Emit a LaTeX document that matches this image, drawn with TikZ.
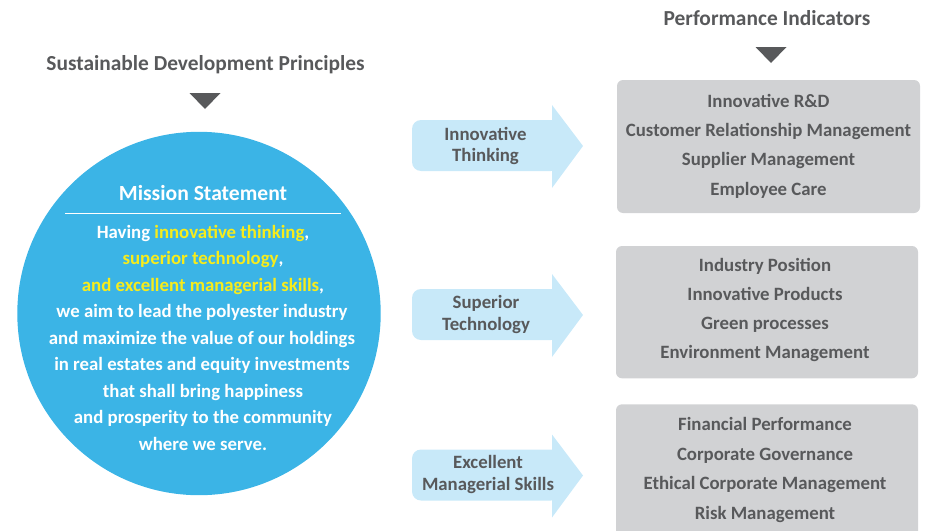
\documentclass[tikz,border=0pt]{standalone}
\usepackage{fontspec}
\setmainfont{Carlito}
\definecolor{txtgray}{HTML}{58595B}
\definecolor{circblue}{HTML}{3BB4E6}
\definecolor{arrblue}{HTML}{C8E9F9}
\definecolor{boxgray}{HTML}{D1D2D4}
\definecolor{hiyellow}{HTML}{F7EC1B}
\tikzset{
  basetxt/.style={anchor=base, inner sep=0pt, font=\fontsize{18.8}{22}\selectfont\bfseries},
  graytxt/.style={basetxt, text=txtgray},
  whitetxt/.style={basetxt, text=white},
  titletxt/.style={graytxt, font=\fontsize{21.4}{24}\selectfont\bfseries},
  tri/.style={fill=txtgray},
  arrowshape/.style={fill=arrblue},
  pibox/.style={fill=boxgray, rounded corners=6pt},
}
\newcommand{\hy}[1]{\textcolor{hiyellow}{#1}}
\begin{document}
\begin{tikzpicture}[x=1pt,y=-1pt]
\useasboundingbox (0,0) rectangle (926,530);

% titles
\node[titletxt] (sdp) at (205.5,70.5) {Sustainable Development Principles};
\fill[tri] (189.5,93) -- (220.5,93) -- (205,109) -- cycle;
\node[titletxt] (pi) at (767,25) {Performance Indicators};
\fill[tri] (755.5,47) -- (786.5,47) -- (771,63) -- cycle;

% mission circle
\fill[circblue] (199,313.5) circle[radius=181.7];
\node[whitetxt, font=\fontsize{21.6}{24}\selectfont\bfseries] (ms) at (203,200) {Mission Statement};
\draw[white, line width=1pt] (65,213.3) -- (341,213.3);
\node[whitetxt] (m1) at (203,238.3) {Having \hy{innovative thinking},};
\node[whitetxt] (m2) at (203,264.8) {\hy{superior technology},};
\node[whitetxt] (m3) at (203,291.2) {\hy{and excellent managerial skills},};
\node[whitetxt] (m4) at (202,317.7) {we aim to lead the polyester industry};
\node[whitetxt] (m5) at (202,344.1) {and maximize the value of our holdings};
\node[whitetxt] (m6) at (202,370.6) {in real estates and equity investments};
\node[whitetxt] (m7) at (203,397.1) {that shall bring happiness};
\node[whitetxt] (m8) at (203,423.5) {and prosperity to the community};
\node[whitetxt] (m9) at (203,450) {where we serve.};

% block arrows
\fill[arrowshape, rounded corners=9pt] (412,120) rectangle (560,171);
\fill[arrowshape] (552,105) -- (583,146) -- (552,188) -- cycle;
\node[graytxt] (a1a) at (485.5,140) {Innovative};
\node[graytxt] (a1b) at (485.5,161.5) {Thinking};

\fill[arrowshape, rounded corners=9pt] (412,289) rectangle (560,340);
\fill[arrowshape] (552,274) -- (583,315) -- (552,357) -- cycle;
\node[graytxt] (a2a) at (486,308.5) {Superior};
\node[graytxt] (a2b) at (486,330) {Technology};

\fill[arrowshape, rounded corners=9pt] (412,449.5) rectangle (560,500.5);
\fill[arrowshape] (552,434.5) -- (583,475.5) -- (552,517.5) -- cycle;
\node[graytxt] (a3a) at (488,468.5) {Excellent};
\node[graytxt] (a3b) at (488,490.5) {Managerial Skills};

% indicator boxes
\fill[pibox] (617,80) rectangle (920,213);
\node[graytxt] (b11) at (768.5,107) {Innovative R\&D};
\node[graytxt] (b12) at (768.5,136.5) {Customer Relationship Management};
\node[graytxt] (b13) at (768.5,165.7) {Supplier Management};
\node[graytxt] (b14) at (768.5,195) {Employee Care};

\fill[pibox] (616,246) rectangle (918,378.3);
\node[graytxt] (b21) at (765,271) {Industry Position};
\node[graytxt] (b22) at (765,300.2) {Innovative Products};
\node[graytxt] (b23) at (765,329.4) {Green processes};
\node[graytxt] (b24) at (765,358.7) {Environment Management};

\fill[pibox] (616,404.3) rectangle (918,545);
\node[graytxt] (b31) at (765,430.7) {Financial Performance};
\node[graytxt] (b32) at (765,460) {Corporate Governance};
\node[graytxt] (b33) at (765,489.5) {Ethical Corporate Management};
\node[graytxt] (b34) at (765,519) {Risk Management};
\end{tikzpicture}
\end{document}
